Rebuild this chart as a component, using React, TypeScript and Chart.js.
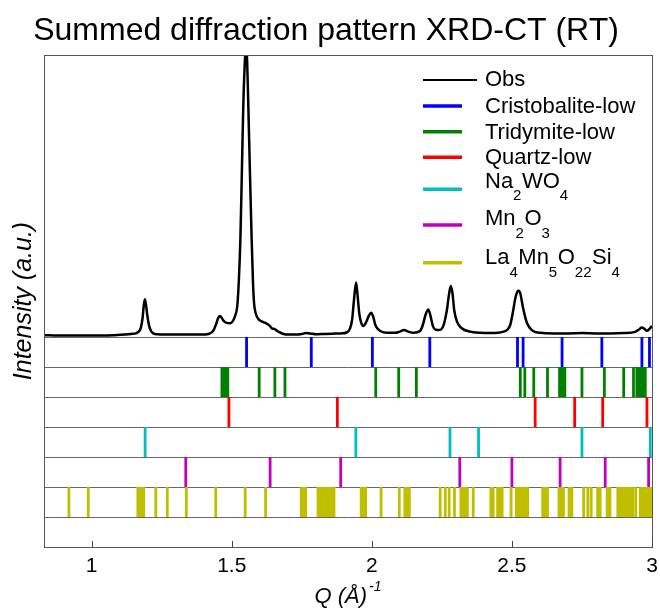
import React, { useEffect, useRef } from 'react';
import { Chart, registerables } from 'chart.js';

Chart.register(...registerables);

// ---------- data ----------
const obsQ = [
  0.83, 0.88, 0.93, 0.98, 1.03, 1.08, 1.12, 1.14, 1.16, 1.17, 1.176, 1.182, 1.186, 1.19, 1.194, 1.199, 1.205, 1.212,
  1.22, 1.235, 1.26, 1.3, 1.35, 1.39, 1.42, 1.435, 1.445, 1.452, 1.458, 1.464, 1.472, 1.482, 1.494, 1.504, 1.512,
  1.52, 1.526, 1.531, 1.536, 1.541, 1.546, 1.551, 1.555, 1.559, 1.565, 1.571, 1.576, 1.58, 1.587, 1.595, 1.605,
  1.62, 1.635, 1.645, 1.652, 1.66, 1.67, 1.685, 1.7, 1.73, 1.75, 1.765, 1.78, 1.8, 1.83, 1.86, 1.89, 1.91, 1.922,
  1.93, 1.936, 1.944, 1.95, 1.955, 1.962, 1.97, 1.98, 1.99, 1.998, 2.005, 2.012, 2.02, 2.03, 2.054, 2.083, 2.1,
  2.115, 2.13, 2.15, 2.172, 2.182, 2.192, 2.202, 2.21, 2.218, 2.228, 2.24, 2.25, 2.258, 2.268, 2.276, 2.282, 2.288,
  2.294, 2.304, 2.321, 2.351, 2.387, 2.42, 2.45, 2.47, 2.482, 2.494, 2.504, 2.512, 2.52, 2.524, 2.53, 2.539, 2.547,
  2.554, 2.571, 2.601, 2.65, 2.7, 2.75, 2.8, 2.85, 2.9, 2.94, 2.955, 2.964, 2.972, 2.982, 2.99, 3.0,
];
const obsI = [
  0.6, 0.5, 0.5, 0.5, 0.5, 0.6, 0.8, 1.0, 1.3, 2.0, 3.2, 6.5, 10.5, 12.6, 10.8, 7.0, 3.8, 2.0,
  1.2, 0.9, 0.8, 0.8, 0.8, 0.8, 1.1, 2.2, 4.5, 6.4, 7.0, 6.4, 5.3, 4.7, 4.6, 5.3, 7.0,
  10.5, 20, 33, 54, 76, 90, 97, 92, 78, 55, 33, 18, 11, 7.5, 6.0, 5.3,
  4.7, 3.8, 2.8, 2.7, 2.2, 1.6, 1.0, 0.8, 0.8, 1.0, 1.3, 1.2, 0.9, 1.0, 1.1, 1.2, 1.5, 2.8,
  6, 12, 18.2, 13, 8, 4.8, 3.7, 5.0, 7.2, 8.1, 6.8, 4.2, 2.8, 2.0, 1.4, 1.4, 1.8,
  2.3, 1.8, 1.4, 2.0, 4.0, 7.5, 9.2, 6.8, 3.6, 2.4, 2.3, 2.8, 4.5, 9.0, 14.5, 17.0, 14.5,
  9.0, 5.1, 2.9, 1.8, 1.4, 1.3, 1.4, 1.8, 2.3, 4.0, 8.5, 12.8, 15.2, 15.4, 14.5, 10.1, 6.8,
  4.6, 2.3, 1.4, 1.2, 1.2, 1.3, 1.2, 1.2, 1.3, 1.7, 2.6, 3.2, 2.8, 2.1, 2.6, 3.7,
];

const cristobaliteQ = [1.553, 1.784, 2.002, 2.207, 2.52, 2.54, 2.679, 2.821, 2.964, 2.991];
const tridymiteQ = [
  1.465, 1.472, 1.479, 1.486, 1.598, 1.654, 1.69, 2.014, 2.096, 2.159, 2.53, 2.546, 2.578, 2.627, 2.67, 2.676,
  2.683, 2.689, 2.75, 2.83, 2.899, 2.934, 2.946, 2.956, 2.966, 2.976,
];
const quartzQ = [1.49, 1.877, 2.583, 2.724, 2.824, 2.982];
const na2wo4Q = [1.191, 1.943, 2.279, 2.381, 2.75, 2.994];
const mn2o3Q = [1.336, 1.637, 1.889, 2.314, 2.5, 2.672, 2.833, 2.988];
const la4mn5o22si4Q = [
  0.919, 0.988, 1.165, 1.172, 1.179, 1.186, 1.229, 1.27, 1.338, 1.443, 1.548, 1.621, 1.748, 1.756, 1.764, 1.808,
  1.815, 1.822, 1.828, 1.835, 1.842, 1.85, 1.858, 1.865, 1.962, 1.97, 1.978, 2.033, 2.098, 2.118, 2.126, 2.134,
  2.244, 2.262, 2.276, 2.295, 2.318, 2.326, 2.334, 2.341, 2.362, 2.425, 2.433, 2.449, 2.457, 2.465, 2.497, 2.516,
  2.524, 2.532, 2.54, 2.548, 2.556, 2.61, 2.618, 2.627, 2.668, 2.676, 2.684, 2.704, 2.714, 2.756, 2.771, 2.783,
  2.806, 2.815, 2.84, 2.85, 2.878, 2.886, 2.895, 2.904, 2.913, 2.922, 2.931, 2.942, 2.958, 2.966, 2.974, 2.982,
  2.99, 2.998,
];

const phaseNames = ['Cristobalite-low', 'Tridymite-low', 'Quartz-low', 'Na_2WO_4', 'Mn_2O_3', 'La_4Mn_5O_22Si_4'];
const phaseColors = ['#0000ff', '#008000', '#ff0000', '#00bfbf', '#bf00bf', '#bfbf00'];
const phaseQs = [cristobaliteQ, tridymiteQ, quartzQ, na2wo4Q, mn2o3Q, la4mn5o22si4Q];

const xTickValues = [1, 1.5, 2, 2.5, 3];
const rowBoundaries = [0, -10, -20, -30, -40, -50, -60, -70];
const titleText = 'Summed diffraction pattern XRD-CT (RT)';

const FONT = "'Liberation Sans', Arial, sans-serif";

function tickSegments(qs: number[], top: number, bottom: number) {
  const pts: { x: number; y: number | null }[] = [];
  qs.forEach((q) => {
    pts.push({ x: q, y: top });
    pts.push({ x: q, y: bottom });
    pts.push({ x: q, y: null });
  });
  return pts;
}

function parseSub(s: string) {
  const parts: { t: string; sub: boolean }[] = [];
  const re = /_(\d+)/g;
  let last = 0;
  let m: RegExpExecArray | null;
  while ((m = re.exec(s))) {
    if (m.index > last) parts.push({ t: s.slice(last, m.index), sub: false });
    parts.push({ t: m[1], sub: true });
    last = m.index + m[0].length;
  }
  if (last < s.length) parts.push({ t: s.slice(last), sub: false });
  return parts;
}

// ---------- plugins (decoration) ----------
const framePlugin = {
  id: 'frame',
  afterDraw(chart: any) {
    const { ctx, chartArea } = chart;
    const { left, top, right, bottom } = chartArea;
    ctx.save();
    ctx.strokeStyle = '#555';
    ctx.lineWidth = 1;
    ctx.strokeRect(Math.round(left) + 0.5, Math.round(top) + 0.5, Math.round(right - left), Math.round(bottom - top));
    const xs = chart.scales.x;
    ctx.strokeStyle = '#444';
    xTickValues.forEach((v) => {
      const px = Math.round(xs.getPixelForValue(v)) + 0.5;
      ctx.beginPath();
      ctx.moveTo(px, bottom);
      ctx.lineTo(px, bottom - 6);
      ctx.stroke();
    });
    ctx.restore();
  },
};

const textPlugin = {
  id: 'texts',
  afterDraw(chart: any) {
    const { ctx, chartArea } = chart;
    ctx.save();
    // x axis title: Q (Å)^-1
    const main = 'Q (Å)';
    const sup = '-1';
    ctx.font = `italic 22px ${FONT}`;
    const wMain = ctx.measureText(main).width;
    ctx.font = `italic 14px ${FONT}`;
    const wSup = ctx.measureText(sup).width;
    const cx = (chartArea.left + chartArea.right) / 2;
    const x0 = cx - (wMain + wSup + 2) / 2;
    ctx.fillStyle = '#000';
    ctx.textBaseline = 'alphabetic';
    ctx.textAlign = 'left';
    ctx.font = `italic 22px ${FONT}`;
    ctx.fillText(main, x0, 603);
    ctx.font = `italic 14px ${FONT}`;
    ctx.fillText(sup, x0 + wMain + 2, 591);

    // legend
    const ds = chart.data.datasets;
    const lineYs = [80, 106, 131.7, 157.3, 189.3, 225, 262.7];
    const textYs = [80, 106.5, 132.5, 158, 181.7, 219.3, 258.3];
    const sampleX0 = 423;
    const textX = 485;
    ds.forEach((d: any, i: number) => {
      ctx.strokeStyle = d.borderColor;
      ctx.lineWidth = i === 0 ? 2 : 3.5;
      ctx.beginPath();
      ctx.moveTo(sampleX0, lineYs[i]);
      ctx.lineTo(i === 0 ? 477 : 462, lineYs[i]);
      ctx.stroke();
      const parts = parseSub(d.legendText);
      let x = textX;
      ctx.fillStyle = '#000';
      ctx.textBaseline = 'middle';
      parts.forEach((p) => {
        ctx.font = p.sub ? `15px ${FONT}` : `22px ${FONT}`;
        ctx.fillText(p.t, x, p.sub ? textYs[i] + 14.5 : textYs[i]);
        x += ctx.measureText(p.t).width + (p.sub ? 0.5 : 0);
      });
    });
    ctx.restore();
  },
};

export default function App() {
  const ref = useRef<HTMLCanvasElement>(null);
  useEffect(() => {
    if (!ref.current) return;
    const datasets: any[] = [
      {
        label: 'Obs',
        legendText: 'Obs',
        data: obsQ.map((q, i) => ({ x: q, y: obsI[i] })),
        borderColor: '#000000',
        borderWidth: 2.5,
        pointRadius: 0,
        cubicInterpolationMode: 'monotone',
        fill: false,
      },
    ];
    phaseQs.forEach((qs, i) => {
      datasets.push({
        label: phaseNames[i].replace(/_/g, ''),
        legendText: phaseNames[i],
        data: tickSegments(qs, rowBoundaries[i], rowBoundaries[i + 1]),
        borderColor: phaseColors[i],
        borderWidth: 2.8,
        borderCapStyle: 'butt',
        pointRadius: 0,
        tension: 0,
        spanGaps: false,
        fill: false,
      });
    });

    const chart = new Chart(ref.current, {
      type: 'line',
      data: { datasets },
      plugins: [framePlugin, textPlugin],
      options: {
        animation: false,
        responsive: false,
        devicePixelRatio: 1,
        layout: { padding: { left: 0, right: 8, top: 0, bottom: 0 } },
        plugins: {
          legend: { display: false },
          tooltip: { enabled: false },
          title: {
            display: true,
            text: titleText,
            color: '#000',
            font: { family: FONT, size: 32, weight: 'normal' },
            padding: { top: 12, bottom: 4.6 },
          },
        },
        scales: {
          x: {
            type: 'linear',
            min: 0.83,
            max: 3.0,
            afterBuildTicks: (s: any) => {
              s.ticks = xTickValues.map((v) => ({ value: v }));
            },
            afterFit: (s: any) => {
              s.height = 63;
              s.paddingLeft = 0;
              s.paddingRight = 0;
            },
            grid: { display: false, drawTicks: false },
            border: { display: true, color: '#555', width: 1 },
            ticks: {
              color: '#000',
              font: { family: FONT, size: 21 },
              padding: 7,
              maxRotation: 0,
              autoSkip: false,
              callback: (v: any) => String(v),
            },
          },
          y: {
            type: 'linear',
            min: -70,
            max: 94,
            afterBuildTicks: (s: any) => {
              s.ticks = rowBoundaries.map((v) => ({ value: v }));
            },
            afterFit: (s: any) => {
              s.width = 44;
              s.paddingTop = 0;
              s.paddingBottom = 0;
            },
            grid: { display: true, color: '#666', lineWidth: 1, drawTicks: false },
            border: { display: true, color: '#555', width: 1 },
            ticks: { display: false },
            title: {
              display: true,
              text: 'Intensity (a.u.)',
              color: '#000',
              font: { family: FONT, size: 25, style: 'italic' },
              padding: { top: 9, bottom: 0 },
            },
          },
        },
      } as any,
    });
    return () => chart.destroy();
  }, []);
  return (
    <canvas
      ref={ref}
      width={660}
      height={610}
      style={{ position: 'fixed', left: 0, top: 0, width: 660, height: 610 }}
    />
  );
}
